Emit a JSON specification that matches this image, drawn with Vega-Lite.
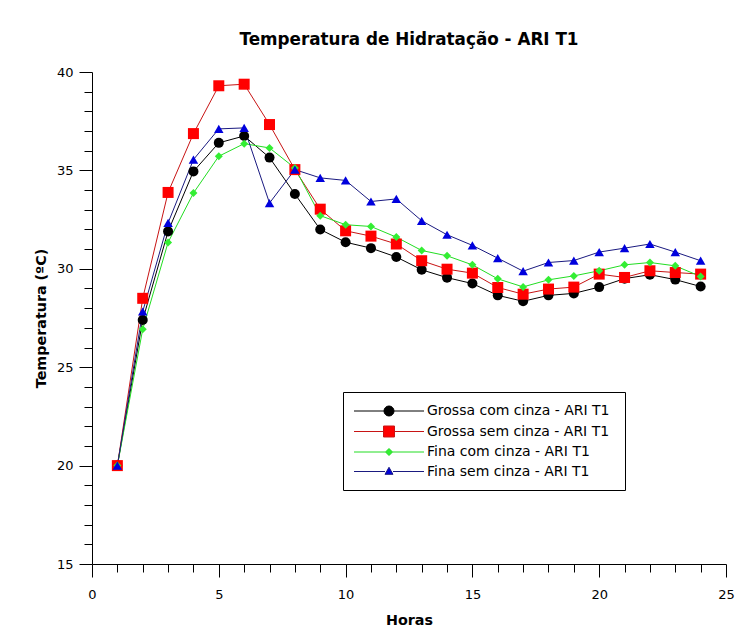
{
  "$schema": "https://vega.github.io/schema/vega-lite/v6.json",
  "width": 634,
  "height": 492,
  "autosize": {"type": "none"},
  "padding": {"top": 72, "left": 92, "right": 17, "bottom": 76},
  "background": "white",
  "title": {"text": "Temperatura de Hidratação - ARI T1", "font": "DejaVu Sans", "fontSize": 16.8, "fontWeight": "bold", "anchor": "middle", "offset": 17, "color": "#000000"},
  "config": {
    "view": {"stroke": null},
    "axis": {"domainColor": "#000000", "tickColor": "#000000", "labelColor": "#000000", "titleColor": "#000000", "labelFont": "DejaVu Sans", "labelFontSize": 13, "titleFont": "DejaVu Sans", "titleFontSize": 14.3, "titleFontWeight": "bold", "grid": false, "labelOverlap": false, "labelFlush": false, "domainWidth": 1, "tickWidth": 1},
    "legend": {"orient": "none", "legendX": 251, "legendY": 320, "title": null,
      "strokeColor": "#000000", "fillColor": "#ffffff", "padding": 11, "rowPadding": 4.5, "labelLimit": 0,
      "symbolStrokeWidth": 1, "labelFont": "DejaVu Sans", "labelFontSize": 14, "labelColor": "#000000", "labelOffset": 4}
  },
  "data": {"values": [
    {"h":1,"T":20.0,"s":"Grossa com cinza - ARI T1"},{"h":2,"T":27.4,"s":"Grossa com cinza - ARI T1"},{"h":3,"T":31.9,"s":"Grossa com cinza - ARI T1"},{"h":4,"T":34.95,"s":"Grossa com cinza - ARI T1"},{"h":5,"T":36.4,"s":"Grossa com cinza - ARI T1"},{"h":6,"T":36.75,"s":"Grossa com cinza - ARI T1"},{"h":7,"T":35.65,"s":"Grossa com cinza - ARI T1"},{"h":8,"T":33.8,"s":"Grossa com cinza - ARI T1"},{"h":9,"T":32.0,"s":"Grossa com cinza - ARI T1"},{"h":10,"T":31.35,"s":"Grossa com cinza - ARI T1"},{"h":11,"T":31.05,"s":"Grossa com cinza - ARI T1"},{"h":12,"T":30.6,"s":"Grossa com cinza - ARI T1"},{"h":13,"T":29.95,"s":"Grossa com cinza - ARI T1"},{"h":14,"T":29.55,"s":"Grossa com cinza - ARI T1"},{"h":15,"T":29.25,"s":"Grossa com cinza - ARI T1"},{"h":16,"T":28.65,"s":"Grossa com cinza - ARI T1"},{"h":17,"T":28.35,"s":"Grossa com cinza - ARI T1"},{"h":18,"T":28.65,"s":"Grossa com cinza - ARI T1"},{"h":19,"T":28.75,"s":"Grossa com cinza - ARI T1"},{"h":20,"T":29.07,"s":"Grossa com cinza - ARI T1"},{"h":21,"T":29.5,"s":"Grossa com cinza - ARI T1"},{"h":22,"T":29.7,"s":"Grossa com cinza - ARI T1"},{"h":23,"T":29.45,"s":"Grossa com cinza - ARI T1"},{"h":24,"T":29.1,"s":"Grossa com cinza - ARI T1"},
    {"h":1,"T":20.0,"s":"Grossa sem cinza  - ARI T1"},{"h":2,"T":28.5,"s":"Grossa sem cinza  - ARI T1"},{"h":3,"T":33.88,"s":"Grossa sem cinza  - ARI T1"},{"h":4,"T":36.87,"s":"Grossa sem cinza  - ARI T1"},{"h":5,"T":39.3,"s":"Grossa sem cinza  - ARI T1"},{"h":6,"T":39.38,"s":"Grossa sem cinza  - ARI T1"},{"h":7,"T":37.33,"s":"Grossa sem cinza  - ARI T1"},{"h":8,"T":35.04,"s":"Grossa sem cinza  - ARI T1"},{"h":9,"T":33.03,"s":"Grossa sem cinza  - ARI T1"},{"h":10,"T":31.93,"s":"Grossa sem cinza  - ARI T1"},{"h":11,"T":31.66,"s":"Grossa sem cinza  - ARI T1"},{"h":12,"T":31.26,"s":"Grossa sem cinza  - ARI T1"},{"h":13,"T":30.41,"s":"Grossa sem cinza  - ARI T1"},{"h":14,"T":29.98,"s":"Grossa sem cinza  - ARI T1"},{"h":15,"T":29.78,"s":"Grossa sem cinza  - ARI T1"},{"h":16,"T":29.05,"s":"Grossa sem cinza  - ARI T1"},{"h":17,"T":28.71,"s":"Grossa sem cinza  - ARI T1"},{"h":18,"T":28.97,"s":"Grossa sem cinza  - ARI T1"},{"h":19,"T":29.07,"s":"Grossa sem cinza  - ARI T1"},{"h":20,"T":29.73,"s":"Grossa sem cinza  - ARI T1"},{"h":21,"T":29.56,"s":"Grossa sem cinza  - ARI T1"},{"h":22,"T":29.9,"s":"Grossa sem cinza  - ARI T1"},{"h":23,"T":29.81,"s":"Grossa sem cinza  - ARI T1"},{"h":24,"T":29.73,"s":"Grossa sem cinza  - ARI T1"},
    {"h":1,"T":20.0,"s":"Fina com cinza - ARI T1"},{"h":2,"T":26.93,"s":"Fina com cinza - ARI T1"},{"h":3,"T":31.34,"s":"Fina com cinza - ARI T1"},{"h":4,"T":33.85,"s":"Fina com cinza - ARI T1"},{"h":5,"T":35.72,"s":"Fina com cinza - ARI T1"},{"h":6,"T":36.36,"s":"Fina com cinza - ARI T1"},{"h":7,"T":36.14,"s":"Fina com cinza - ARI T1"},{"h":8,"T":35.12,"s":"Fina com cinza - ARI T1"},{"h":9,"T":32.7,"s":"Fina com cinza - ARI T1"},{"h":10,"T":32.24,"s":"Fina com cinza - ARI T1"},{"h":11,"T":32.15,"s":"Fina com cinza - ARI T1"},{"h":12,"T":31.61,"s":"Fina com cinza - ARI T1"},{"h":13,"T":30.93,"s":"Fina com cinza - ARI T1"},{"h":14,"T":30.66,"s":"Fina com cinza - ARI T1"},{"h":15,"T":30.2,"s":"Fina com cinza - ARI T1"},{"h":16,"T":29.49,"s":"Fina com cinza - ARI T1"},{"h":17,"T":29.08,"s":"Fina com cinza - ARI T1"},{"h":18,"T":29.44,"s":"Fina com cinza - ARI T1"},{"h":19,"T":29.64,"s":"Fina com cinza - ARI T1"},{"h":20,"T":29.9,"s":"Fina com cinza - ARI T1"},{"h":21,"T":30.2,"s":"Fina com cinza - ARI T1"},{"h":22,"T":30.32,"s":"Fina com cinza - ARI T1"},{"h":23,"T":30.15,"s":"Fina com cinza - ARI T1"},{"h":24,"T":29.61,"s":"Fina com cinza - ARI T1"},
    {"h":1,"T":20.0,"s":"Fina sem cinza - ARI T1"},{"h":2,"T":27.83,"s":"Fina sem cinza - ARI T1"},{"h":3,"T":32.33,"s":"Fina sem cinza - ARI T1"},{"h":4,"T":35.55,"s":"Fina sem cinza - ARI T1"},{"h":5,"T":37.11,"s":"Fina sem cinza - ARI T1"},{"h":6,"T":37.16,"s":"Fina sem cinza - ARI T1"},{"h":7,"T":33.34,"s":"Fina sem cinza - ARI T1"},{"h":8,"T":35.04,"s":"Fina sem cinza - ARI T1"},{"h":9,"T":34.62,"s":"Fina sem cinza - ARI T1"},{"h":10,"T":34.49,"s":"Fina sem cinza - ARI T1"},{"h":11,"T":33.42,"s":"Fina sem cinza - ARI T1"},{"h":12,"T":33.55,"s":"Fina sem cinza - ARI T1"},{"h":13,"T":32.44,"s":"Fina sem cinza - ARI T1"},{"h":14,"T":31.73,"s":"Fina sem cinza - ARI T1"},{"h":15,"T":31.19,"s":"Fina sem cinza - ARI T1"},{"h":16,"T":30.54,"s":"Fina sem cinza - ARI T1"},{"h":17,"T":29.88,"s":"Fina sem cinza - ARI T1"},{"h":18,"T":30.32,"s":"Fina sem cinza - ARI T1"},{"h":19,"T":30.42,"s":"Fina sem cinza - ARI T1"},{"h":20,"T":30.85,"s":"Fina sem cinza - ARI T1"},{"h":21,"T":31.05,"s":"Fina sem cinza - ARI T1"},{"h":22,"T":31.26,"s":"Fina sem cinza - ARI T1"},{"h":23,"T":30.85,"s":"Fina sem cinza - ARI T1"},{"h":24,"T":30.41,"s":"Fina sem cinza - ARI T1"}
  ]},
  "encoding": {
    "x": {"field": "h", "type": "quantitative", "scale": {"domain": [0, 25], "nice": false, "zero": false},
      "axis": {"title": "Horas", "values": [0,1,2,3,4,5,6,7,8,9,10,11,12,13,14,15,16,17,18,19,20,21,22,23,24,25],
        "labelExpr": "datum.value % 5 === 0 ? datum.label : ''",
        "tickSize": {"condition": {"test": "datum.value % 5 === 0", "value": 13}, "value": 8},
        "labelPadding": 11, "titlePadding": 12}},
    "y": {"field": "T", "type": "quantitative", "scale": {"domain": [15, 40], "nice": false, "zero": false},
      "axis": {"title": "Temperatura (ºC)", "values": [15,16,17,18,19,20,21,22,23,24,25,26,27,28,29,30,31,32,33,34,35,36,37,38,39,40],
        "labelExpr": "datum.value % 5 === 0 ? datum.label : ''",
        "tickSize": {"condition": {"test": "datum.value % 5 === 0", "value": 13}, "value": 8},
        "labelPadding": 6, "titlePadding": 8}},
    "fill": {"field": "s", "type": "nominal",
      "scale": {"domain": ["Grossa com cinza - ARI T1", "Grossa sem cinza  - ARI T1", "Fina com cinza - ARI T1", "Fina sem cinza - ARI T1"], "range": ["#000000", "#ff0000", "#33ee33", "#0000dd"]},
      "legend": {"encode": {
        "symbols": {"update": {
          "shape": {"signal": "datum.value === 'Grossa com cinza - ARI T1' ? 'M-1,0H-0.143M0.143,0H1M0.143,0A0.143,0.143,0,1,1,-0.143,0A0.143,0.143,0,1,1,0.143,0Z' : datum.value === 'Grossa sem cinza  - ARI T1' ? 'M-1,0H-0.157M0.157,0H1M-0.157,-0.157H0.157V0.157H-0.157Z' : datum.value === 'Fina com cinza - ARI T1' ? 'M-1,0H-0.1M0.1,0H1M0,-0.1L0.1,0L0,0.1L-0.1,0Z' : 'M-1,0H-0.114M0.114,0H1M0,-0.12L0.114,0.08L-0.114,0.08Z'"},
          "strokeWidth": {"value": 1}, "size": {"value": 4900}, "x": {"value": 35}, "y": {"value": 8}}},
        "labels": {"update": {"x": {"value": 73}, "y": {"value": 8}}}}}}
  },
  "layer": [
    {"mark": {"type": "line", "strokeWidth": 1},
     "encoding": {"fill": null, "stroke": {"field": "s", "type": "nominal",
        "scale": {"domain": ["Grossa com cinza - ARI T1", "Grossa sem cinza  - ARI T1", "Fina com cinza - ARI T1", "Fina sem cinza - ARI T1"], "range": ["#000000", "#c81414", "#22dd22", "#1a1a80"]},
        "legend": {"encode": {
           "symbols": {"update": {
             "shape": {"signal": "datum.value === 'Grossa com cinza - ARI T1' ? 'M-1,0H-0.143M0.143,0H1M0.143,0A0.143,0.143,0,1,1,-0.143,0A0.143,0.143,0,1,1,0.143,0Z' : datum.value === 'Grossa sem cinza  - ARI T1' ? 'M-1,0H-0.157M0.157,0H1M-0.157,-0.157H0.157V0.157H-0.157Z' : datum.value === 'Fina com cinza - ARI T1' ? 'M-1,0H-0.1M0.1,0H1M0,-0.1L0.1,0L0,0.1L-0.1,0Z' : 'M-1,0H-0.114M0.114,0H1M0,-0.12L0.114,0.08L-0.114,0.08Z'"},
             "strokeWidth": {"value": 1}, "size": {"value": 4900}, "x": {"value": 35}, "y": {"value": 8}}},
           "labels": {"update": {"x": {"value": 73}, "y": {"value": 8}}}}}}}},
    {"transform": [{"filter": "datum.s === 'Grossa com cinza - ARI T1'"}],
     "mark": {"type": "point", "filled": true, "opacity": 1, "strokeWidth": 0, "shape": "circle", "size": 100}},
    {"transform": [{"filter": "datum.s === 'Grossa sem cinza  - ARI T1'"}],
     "mark": {"type": "point", "filled": true, "opacity": 1, "strokeWidth": 0, "shape": "square", "size": 121}},
    {"transform": [{"filter": "datum.s === 'Fina com cinza - ARI T1'"}],
     "mark": {"type": "point", "filled": true, "opacity": 1, "strokeWidth": 0, "shape": "diamond", "size": 64}},
    {"transform": [{"filter": "datum.s === 'Fina sem cinza - ARI T1'"}],
     "mark": {"type": "point", "filled": true, "opacity": 1, "strokeWidth": 0, "shape": "triangle-up", "size": 90}}
  ]
}
